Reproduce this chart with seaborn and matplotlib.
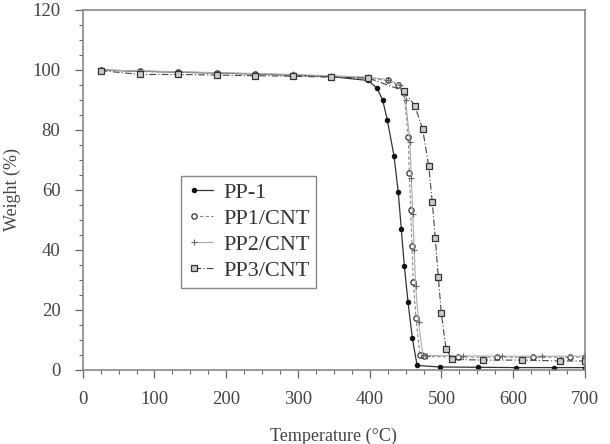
import pandas as pd
import seaborn as sns
import numpy as np
import matplotlib.pyplot as plt
from matplotlib.ticker import MultipleLocator

# TGA curves
t_pp1 = [25, 80, 133, 187, 240, 293, 346, 398, 410, 418, 424.5, 433.8, 439.8, 444, 448.2,
         453.3, 459.3, 466, 498, 551, 604, 657, 700]
w_pp1 = [100, 99.6, 99.3, 99.0, 98.7, 98.3, 97.8, 96.5, 94, 90, 83.3, 71.4, 59.2, 46.9, 34.7,
         22.8, 10.8, 1.5, 1.0, 0.9, 0.8, 0.8, 0.8]

t_pp1cnt = [25, 80, 133, 187, 240, 293, 346, 398, 425, 440, 447.7, 453.7, 455.1, 457.1, 458.9,
            460.7, 464.5, 470, 475, 523, 577, 628, 679, 700]
w_pp1cnt = [100, 99.5, 99.2, 98.9, 98.6, 98.2, 97.8, 97.3, 96.5, 95, 92.2, 77.8, 65.6, 53.3, 41.3,
            29.4, 17.2, 5.0, 4.5, 4.3, 4.3, 4.2, 4.3, 4.3]

t_pp2cnt = [25, 80, 133, 187, 240, 293, 346, 398, 425, 442, 450, 456, 458, 460, 462, 464,
            468, 474, 480, 530, 585, 640, 700]
w_pp2cnt = [100, 99.7, 99.4, 99.1, 98.8, 98.5, 98.1, 97.6, 96.8, 95, 90, 76, 64, 52, 40, 28,
            16, 5.0, 4.8, 4.7, 4.6, 4.6, 4.6]

t_pp3cnt = [25, 80, 133, 187, 240, 293, 346, 398, 448, 463, 473.8, 482.2, 487.2, 491.4, 495.5,
            499.7, 506.3, 515, 558, 612, 665, 700]
w_pp3cnt = [99.8, 98.5, 98.5, 98.3, 98.1, 97.9, 97.6, 97.3, 93, 88, 80.2, 68, 55.9, 43.9, 31.1,
            19.1, 7.1, 3.5, 3.3, 3.3, 3.0, 3.0]

sns.set_style('ticks')
plt.rcParams['font.family'] = ['Liberation Serif', 'DejaVu Serif']

fig = plt.figure(figsize=(6.1, 4.44), dpi=100)
ax = fig.add_axes([0.1356, 0.1667, 0.8234, 0.8108])

sns.lineplot(x=t_pp1, y=w_pp1, ax=ax, sort=False, estimator=None, color='#333333',
             linestyle='-', lw=0.9, marker='o', markersize=3.2, markerfacecolor='#111111',
             markeredgecolor='#111111', label='PP-1')
sns.lineplot(x=t_pp1cnt, y=w_pp1cnt, ax=ax, sort=False, estimator=None, color='#888888',
             linestyle=(0, (3, 2)), lw=0.8, marker='o', markersize=3.8, markerfacecolor='white',
             markeredgecolor='#333333', markeredgewidth=0.9, label='PP1/CNT')
sns.lineplot(x=t_pp2cnt, y=w_pp2cnt, ax=ax, sort=False, estimator=None, color='#aaaaaa',
             linestyle='-', lw=0.8, marker='+', markersize=5, markeredgecolor='#666666',
             markeredgewidth=0.8, label='PP2/CNT')
sns.lineplot(x=t_pp3cnt, y=w_pp3cnt, ax=ax, sort=False, estimator=None, color='#444444',
             linestyle=(0, (6, 2, 1, 2)), lw=0.8, marker='s', markersize=3.8,
             markerfacecolor='#cccccc', markeredgecolor='#333333', markeredgewidth=0.9,
             label='PP3/CNT')

ax.set_xlim(0, 700)
ax.set_ylim(0, 120)
ax.xaxis.set_major_locator(MultipleLocator(100))
ax.xaxis.set_minor_locator(MultipleLocator(25))
ax.yaxis.set_major_locator(MultipleLocator(20))
ax.yaxis.set_minor_locator(MultipleLocator(5))
ax.tick_params(which='major', direction='out', length=6, width=0.9, color='#666666',
               labelsize=13.5, labelcolor='#444444', top=False, right=False)
ax.tick_params(axis='x', which='major', pad=9)
ax.tick_params(axis='y', which='major', pad=10)
ax.tick_params(which='minor', direction='out', length=3, width=0.8, color='#666666',
               top=False, right=False)
for s in ax.spines.values():
    s.set_color('#888888')
    s.set_linewidth(1.2)

ax.set_xlabel('Temperature (°C)', fontsize=13, color='#444444', labelpad=14)
ax.set_ylabel('Weight (%)', fontsize=13, color='#444444', labelpad=8)

leg = ax.legend(loc='upper left', bbox_to_anchor=(0.195, 0.54), fontsize=16,
                handlelength=1.45, handletextpad=0.15, labelspacing=0.25, numpoints=2,
                borderpad=0.3, borderaxespad=0, fancybox=False, framealpha=1)
leg.get_frame().set_edgecolor('#888888')
leg.get_frame().set_linewidth(1.0)
# marker only at the left end of each legend line, as in the original
for h in leg.legend_handles:
    h.set_markevery([0])
for txt in leg.get_texts():
    txt.set_color('#333333')

fig.savefig('out.png', dpi=100)
